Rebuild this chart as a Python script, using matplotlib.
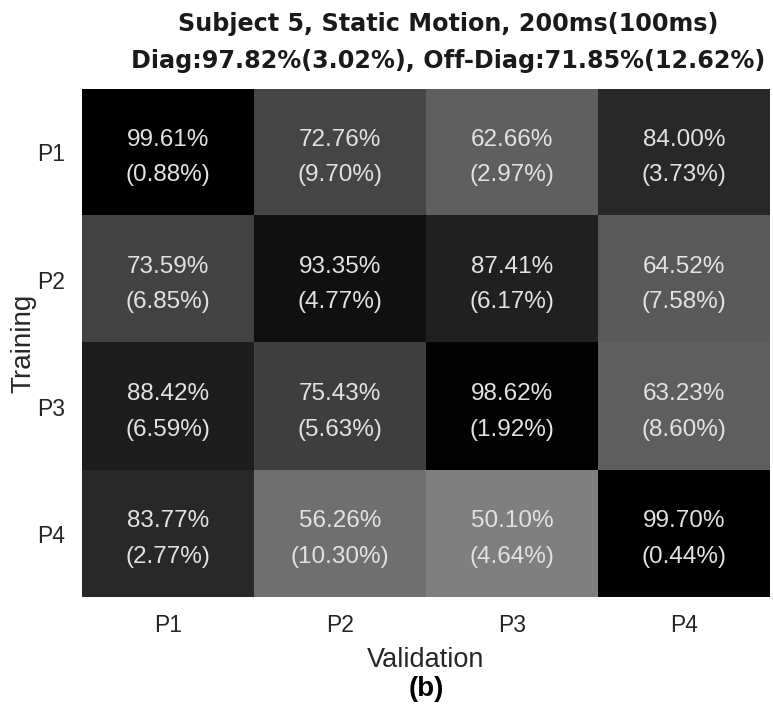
import matplotlib.pyplot as plt
import numpy as np

# mean accuracy (%) per training/validation position pair, with std in brackets
positions = ["P1", "P2", "P3", "P4"]
acc_mean = [
    [99.61, 72.76, 62.66, 84.00],
    [73.59, 93.35, 87.41, 64.52],
    [88.42, 75.43, 98.62, 63.23],
    [83.77, 56.26, 50.10, 99.70],
]
acc_std = [
    [0.88, 9.70, 2.97, 3.73],
    [6.85, 4.77, 6.17, 7.58],
    [6.59, 5.63, 1.92, 8.60],
    [2.77, 10.30, 4.64, 0.44],
]
title_lines = ["Subject 5, Static Motion, 200ms(100ms)",
               "Diag:97.82%(3.02%), Off-Diag:71.85%(12.62%)"]

plt.rcParams['font.family'] = ['Liberation Sans', 'DejaVu Sans']

fig = plt.figure(figsize=(7.73, 7.06), dpi=100)
ax = fig.add_axes([0.106, 0.154, 0.89, 0.72])

data = np.array(acc_mean)
ax.imshow(data, cmap="gray_r", vmin=0, vmax=100, aspect="auto")

for i in range(len(positions)):
    for j in range(len(positions)):
        ax.text(j, i - 0.10, "%.2f%%" % acc_mean[i][j], ha="center", va="center",
                color="#e2e2e2", fontsize=17.5)
        ax.text(j, i + 0.18, "(%.2f%%)" % acc_std[i][j], ha="center", va="center",
                color="#e2e2e2", fontsize=17.5)

ax.set_xticks(range(len(positions)))
ax.set_xticklabels(positions)
ax.set_yticks(range(len(positions)))
ax.set_yticklabels(positions)
ax.tick_params(length=0, labelsize=16.5, colors="#262626", pad=12)
ax.set_xlabel("Validation", fontsize=19.5, color="#262626", labelpad=7)
ax.set_ylabel("Training", fontsize=20, color="#262626", labelpad=1)
for s in ax.spines.values():
    s.set_visible(False)

title_font = dict(ha="center", va="center", fontsize=17.2, fontweight="bold",
                  color="#1a1a1a", family="DejaVu Sans")
fig.text(448 / 773, 1 - 24 / 706, title_lines[0], **title_font)
fig.text(448 / 773, 1 - 61 / 706, title_lines[1], **title_font)
fig.text(426 / 773, 1 - 689 / 706, "(b)", ha="center", va="center",
         fontsize=20, fontweight="bold", color="black")

fig.savefig("out.png", dpi=100)
